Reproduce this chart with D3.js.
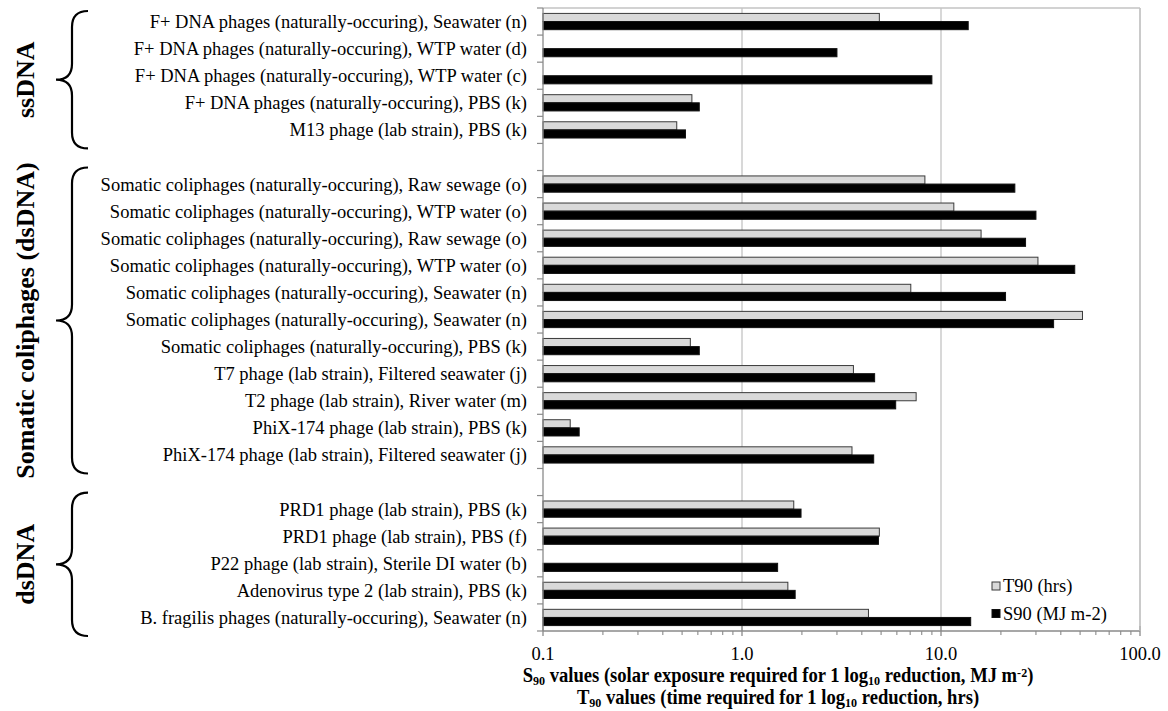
<!DOCTYPE html>
<html>
<head>
<meta charset="utf-8">
<script src="https://cdn.jsdelivr.net/npm/d3@7"></script>
<style>
  html, body { margin: 0; padding: 0; background: #fff; }
  svg { display: block; }
  text { font-family: "Liberation Serif", "Times New Roman", serif; fill: #000; }
</style>
</head>
<body>
<svg id="chart" width="1168" height="711"></svg>
<script>
// Rows from top to bottom; empty strings are the spacer rows between groups
const categories = [
  "F+ DNA phages (naturally-occuring), Seawater (n)",
  "F+ DNA phages (naturally-occuring), WTP water (d)",
  "F+ DNA phages (naturally-occuring), WTP water (c)",
  "F+ DNA phages (naturally-occuring), PBS (k)",
  "M13 phage (lab strain), PBS (k)",
  "",
  "Somatic coliphages (naturally-occuring), Raw sewage (o)",
  "Somatic coliphages (naturally-occuring), WTP water (o)",
  "Somatic coliphages (naturally-occuring), Raw sewage (o)",
  "Somatic coliphages (naturally-occuring), WTP water (o)",
  "Somatic coliphages (naturally-occuring), Seawater (n)",
  "Somatic coliphages (naturally-occuring), Seawater (n)",
  "Somatic coliphages (naturally-occuring), PBS (k)",
  "T7 phage (lab strain), Filtered seawater (j)",
  "T2 phage (lab strain), River water (m)",
  "PhiX-174 phage (lab strain), PBS (k)",
  "PhiX-174 phage (lab strain), Filtered seawater (j)",
  "",
  "PRD1 phage (lab strain), PBS (k)",
  "PRD1 phage (lab strain), PBS (f)",
  "P22 phage (lab strain), Sterile DI water (b)",
  "Adenovirus type 2 (lab strain), PBS (k)",
  "B. fragilis phages (naturally-occuring), Seawater (n)"
];

// T90 (hrs)
const t90 = [4.9, null, null, 0.56, 0.47, null,
             8.3, 11.6, 15.9, 30.7, 7.05, 51.4, 0.55, 3.63, 7.5, 0.137, 3.57, null,
             1.82, 4.9, null, 1.70, 4.32];

// S90 (MJ m-2)
const s90 = [13.7, 3.0, 9.0, 0.61, 0.52, null,
             23.5, 30.0, 26.6, 47.0, 21.1, 36.8, 0.61, 4.64, 5.92, 0.152, 4.59, null,
             1.98, 4.85, 1.51, 1.85, 14.1];

// Virus groups: label and first/last row index
const groupNames = ["ssDNA", "Somatic coliphages (dsDNA)", "dsDNA"];
const groupRows = [[0, 4], [6, 16], [18, 22]];

const xTickValues = [0.1, 1, 10, 100];
const seriesNames = ["T90 (hrs)", "S90 (MJ m-2)"];

const svg = d3.select("#chart");
const margin = { top: 8, right: 28, bottom: 80, left: 543 };
const W = 1168, H = 711;
const plotW = W - margin.left - margin.right;
const plotH = H - margin.top - margin.bottom;

const g = svg.append("g").attr("transform", `translate(${margin.left},${margin.top})`);

const x = d3.scaleLog().domain([0.1, 100]).range([0, plotW]);
const rows = d3.range(categories.length);
const y = d3.scaleBand().domain(rows).range([0, plotH]).paddingInner(0.4).paddingOuter(0.2);
const edge = d3.scaleLinear().domain([0, categories.length]).range([0, plotH]);
const sub = d3.scaleBand().domain([0, 1]).range([0, y.bandwidth()]);

// vertical gridlines and frame
g.selectAll("line.grid").data(xTickValues.slice(1)).join("line")
  .attr("class", "grid")
  .attr("x1", d => x(d)).attr("x2", d => x(d))
  .attr("y1", 0).attr("y2", plotH)
  .attr("stroke", "#c3c3c3").attr("stroke-width", 1.3);
g.append("line").attr("x1", 0).attr("x2", plotW).attr("y1", 0).attr("y2", 0)
  .attr("stroke", "#c3c3c3").attr("stroke-width", 1.3);

// bars
const series = [
  { vals: t90, fill: "#d9d9d9", stroke: "#3a3a3a" },
  { vals: s90, fill: "#000000", stroke: "#111111" }
];
series.forEach((s, si) => {
  g.append("g").selectAll("rect")
    .data(rows.filter(i => s.vals[i] != null))
    .join("rect")
    .attr("x", x(0.1))
    .attr("y", i => y(i) + sub(si))
    .attr("width", i => x(s.vals[i]) - x(0.1))
    .attr("height", sub.bandwidth())
    .attr("fill", s.fill)
    .attr("stroke", s.stroke)
    .attr("stroke-width", 1);
});

// left axis with ticks at row boundaries
g.append("line").attr("x1", 0).attr("x2", 0).attr("y1", 0).attr("y2", plotH)
  .attr("stroke", "#8a8a8a").attr("stroke-width", 1.3);
g.selectAll("line.ytick").data(d3.range(categories.length + 1)).join("line")
  .attr("class", "ytick")
  .attr("x1", -6).attr("x2", 0)
  .attr("y1", d => edge(d)).attr("y2", d => edge(d))
  .attr("stroke", "#8a8a8a").attr("stroke-width", 1.2);

// category labels
g.selectAll("text.cat").data(rows.filter(i => categories[i])).join("text")
  .attr("class", "cat")
  .attr("x", -16)
  .attr("y", i => y(i) + y.bandwidth() / 2)
  .attr("dy", "0.35em")
  .attr("text-anchor", "end")
  .style("font-size", "18.5px")
  .text(i => categories[i]);

// bottom axis: minor ticks outside, major ticks crossing
const minor = x.ticks().filter(v => !xTickValues.some(t => Math.abs(t - v) < 1e-9));
const axisG = g.append("g").attr("transform", `translate(0,${plotH})`);
axisG.append("line").attr("x1", 0).attr("x2", plotW)
  .attr("stroke", "#8a8a8a").attr("stroke-width", 1.3);
axisG.selectAll("line.minor").data(minor).join("line")
  .attr("class", "minor")
  .attr("x1", d => x(d)).attr("x2", d => x(d)).attr("y1", 0).attr("y2", 4)
  .attr("stroke", "#8a8a8a").attr("stroke-width", 1.1);
axisG.selectAll("line.major").data(xTickValues).join("line")
  .attr("class", "major")
  .attr("x1", d => x(d)).attr("x2", d => x(d)).attr("y1", -5).attr("y2", 5)
  .attr("stroke", "#8a8a8a").attr("stroke-width", 1.3);
// right frame edge
g.append("line").attr("x1", plotW).attr("x2", plotW).attr("y1", 0).attr("y2", plotH)
  .attr("stroke", "#c3c3c3").attr("stroke-width", 1.3);

axisG.selectAll("text.xl").data(xTickValues).join("text")
  .attr("class", "xl")
  .attr("x", d => x(d)).attr("y", 23)
  .attr("dy", "0.35em")
  .attr("text-anchor", "middle")
  .style("font-size", "18.5px")
  .text(d => d3.format(".1f")(d));

// axis title (two lines, with sub/superscripts), slightly condensed bold
function titleLine(yPos, parts) {
  const t = svg.append("text")
    .attr("transform", `translate(778,${yPos}) scale(0.93,1)`)
    .attr("text-anchor", "middle")
    .style("font-size", "20px").style("font-weight", "bold");
  parts.forEach(p => {
    const ts = t.append("tspan").text(p.t);
    if (p.sub) ts.attr("baseline-shift", "-20%").style("font-size", "13px");
    if (p.sup) ts.attr("baseline-shift", "40%").style("font-size", "13px");
  });
}
titleLine(682, [
  { t: "S" }, { t: "90", sub: true },
  { t: " values (solar exposure required for 1 log" }, { t: "10", sub: true },
  { t: " reduction, MJ m" }, { t: "-2", sup: true }, { t: ")" }
]);
titleLine(704, [
  { t: "T" }, { t: "90", sub: true },
  { t: " values (time required for 1 log" }, { t: "10", sub: true },
  { t: " reduction, hrs)" }
]);

// braces and group labels
function bracePath(xTip, xMid, xEnd, y0, y1) {
  const ym = (y0 + y1) / 2;
  const r = xEnd - xMid;
  const r2 = xMid - xTip;
  const p = d3.path();
  p.moveTo(xEnd, y0);
  p.quadraticCurveTo(xMid, y0, xMid, y0 + r);
  p.lineTo(xMid, ym - r2);
  p.quadraticCurveTo(xMid, ym, xTip, ym);
  p.quadraticCurveTo(xMid, ym, xMid, ym + r2);
  p.lineTo(xMid, y1 - r);
  p.quadraticCurveTo(xMid, y1, xEnd, y1);
  return p.toString();
}
groupRows.forEach((gr, k) => {
  const y0 = margin.top + edge(gr[0]) + (k === 0 ? 3 : -3);
  const y1 = margin.top + edge(gr[1] + 1) + 5;
  svg.append("path")
    .attr("d", bracePath(56, 72, 88, y0, y1))
    .attr("fill", "none").attr("stroke", "#000").attr("stroke-width", 2.2);
  const ym = (y0 + y1) / 2;
  svg.append("text")
    .attr("transform", `translate(25,${ym}) rotate(-90)`)
    .attr("text-anchor", "middle")
    .attr("dy", "0.35em")
    .style("font-size", "26px").style("font-weight", "bold")
    .text(groupNames[k]);
});

// legend
const legend = g.append("g").attr("transform", `translate(${x(10) + 51},578)`);
series.forEach((s, si) => {
  const row = legend.append("g").attr("transform", `translate(0,${si * 27.5})`);
  row.append("rect").attr("x", 0).attr("y", -4).attr("width", 8).attr("height", 8)
    .attr("fill", s.fill).attr("stroke", s.stroke).attr("stroke-width", 1);
  row.append("text").attr("x", 11).attr("y", 0).attr("dy", "0.35em")
    .style("font-size", "18.5px").text(seriesNames[si]);
});
</script>
</body>
</html>
